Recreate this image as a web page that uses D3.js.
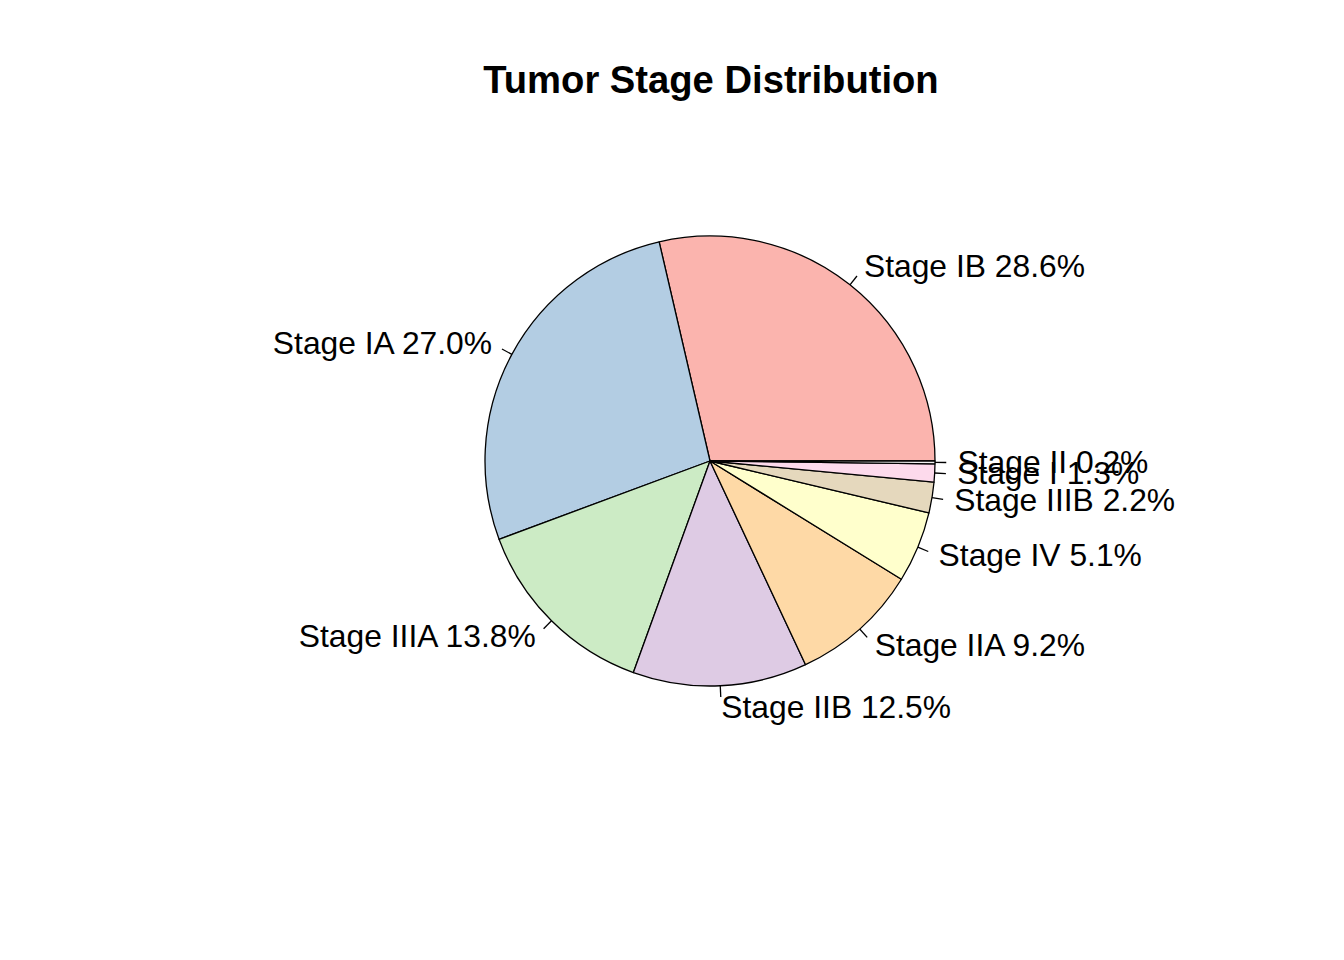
<!DOCTYPE html>
<html>
<head>
<meta charset="utf-8">
<script src="https://cdn.jsdelivr.net/npm/d3@7"></script>
<style>
  html, body { margin: 0; padding: 0; background: #fff; }
  svg { display: block; }
</style>
</head>
<body>
<svg id="chart" width="1344" height="960"></svg>
<script>
const categories = ["Stage IB", "Stage IA", "Stage IIIA", "Stage IIB", "Stage IIA", "Stage IV", "Stage IIIB", "Stage I", "Stage II"];
const values = [28.6, 27.0, 13.8, 12.5, 9.2, 5.1, 2.2, 1.3, 0.2];
const colors = ["#FBB4AE", "#B3CDE3", "#CCEBC5", "#DECBE4", "#FED9A6", "#FFFFCC", "#E5D8BD", "#FDDAEC", "#F2F2F2"];
const title = "Tumor Stage Distribution";

const svg = d3.select("#chart");
const cx = 710, cy = 461, r = 225;
const font = "'Liberation Sans', Arial, Helvetica, sans-serif";

const pie = d3.pie().sort(null).value(d => d)
  .startAngle(Math.PI / 2).endAngle(Math.PI / 2 - 2 * Math.PI);
const arcs = pie(values);
const arc = d3.arc().innerRadius(0).outerRadius(r);
const color = d3.scaleOrdinal().domain(categories).range(colors);

const g = svg.append("g").attr("transform", `translate(${cx},${cy})`);

g.selectAll("path.slice").data(arcs).enter().append("path")
  .attr("class", "slice")
  .attr("d", arc)
  .attr("fill", (d, i) => color(categories[i]))
  .attr("stroke", "#000")
  .attr("stroke-width", 1.3)
  .attr("stroke-linejoin", "round");

const mid = d => (d.startAngle + d.endAngle) / 2;

g.selectAll("line.tick").data(arcs).enter().append("line")
  .attr("x1", d => Math.sin(mid(d)) * r)
  .attr("y1", d => -Math.cos(mid(d)) * r)
  .attr("x2", d => Math.sin(mid(d)) * r * 1.05)
  .attr("y2", d => -Math.cos(mid(d)) * r * 1.05)
  .attr("stroke", "#000").attr("stroke-width", 1.3);

g.selectAll("text.lab").data(arcs).enter().append("text")
  .attr("x", d => Math.sin(mid(d)) * r * 1.1)
  .attr("y", d => -Math.cos(mid(d)) * r * 1.1)
  .attr("dy", "0.32em")
  .attr("text-anchor", d => Math.sin(mid(d)) >= 0 ? "start" : "end")
  .attr("font-family", font)
  .attr("font-size", 31.8)
  .attr("fill", "#000")
  .text((d, i) => `${categories[i]} ${values[i].toFixed(1)}%`);

svg.append("text")
  .attr("x", 711).attr("y", 93)
  .attr("text-anchor", "middle")
  .attr("font-family", font)
  .attr("font-weight", "bold")
  .attr("font-size", 38.2)
  .text(title);
</script>
</body>
</html>
